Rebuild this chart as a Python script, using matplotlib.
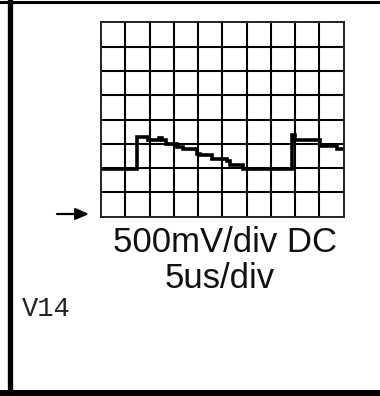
import matplotlib
matplotlib.use("Agg")
import matplotlib.pyplot as plt
from matplotlib.lines import Line2D

# Scope trace, in screen divisions (10 horizontal x 8 vertical)
trace_t = [0.00, 1.50, 1.95, 2.40, 2.50, 2.70, 3.15, 3.40, 3.95, 4.08, 4.56, 5.18, 5.32, 5.87,
           7.88, 7.98, 9.03, 9.72, 10.00]
trace_v = [1.95, 3.27, 3.16, 3.24, 3.14, 2.98, 2.86, 2.77, 2.60, 2.54, 2.38, 2.28, 2.13, 1.95,
           3.36, 3.16, 2.93, 2.77, 2.77]

n_hdiv = 10
n_vdiv = 8

vertical_label = "500mV/div DC"
horizontal_label = "5us/div"
probe_label = "V14"

W, H = 380, 396
fig = plt.figure(figsize=(W / 100, H / 100), dpi=100)
fig.patch.set_facecolor("white")

def fx(px):
    return px / W

def fy(py):
    return 1 - py / H

# frame lines around the sheet
fig.add_artist(Line2D([0, 1], [fy(1.5), fy(1.5)], color="black", lw=2.2, transform=fig.transFigure))
fig.add_artist(Line2D([fx(9.5), fx(9.5)], [0, 1], color="black", lw=3.8, transform=fig.transFigure))
fig.add_artist(Line2D([0, 1], [fy(393), fy(393)], color="black", lw=4.3, transform=fig.transFigure))

# graticule
gl, gr, gt, gb = 101, 343.5, 22.3, 216.7
ax = fig.add_axes([fx(gl), fy(gb), fx(gr - gl), (gb - gt) / H])
ax.set_xlim(0, n_hdiv)
ax.set_ylim(0, n_vdiv)
for s in ax.spines.values():
    s.set_linewidth(1.4)
    s.set_color("#222222")
ax.set_xticks([])
ax.set_yticks([])
for i in range(1, n_hdiv):
    ax.axvline(i, color="black", lw=1.5)
for j in range(1, n_vdiv):
    ax.axhline(j, color="black", lw=1.5)

ax.plot(trace_t, trace_v, drawstyle="steps-post", color="black", lw=2.6,
        solid_joinstyle="miter", clip_on=True)

# ground marker
ax.annotate("", xy=(fx(89), fy(214)), xytext=(fx(57), fy(214)),
            xycoords="figure fraction", textcoords="figure fraction",
            arrowprops=dict(arrowstyle="-|>,head_length=0.8,head_width=0.35",
                            color="black", lw=1.6, shrinkA=0, shrinkB=0))

fig.text(fx(225), fy(252), vertical_label, ha="center", va="baseline",
         family="Liberation Sans", fontsize=25, color="#111111")
fig.text(fx(220), fy(288), horizontal_label, ha="center", va="baseline",
         family="Liberation Sans", fontsize=25, color="#111111")
fig.text(fx(22), fy(316), probe_label, ha="left", va="baseline",
         family="Liberation Mono", fontsize=19.5, color="#222222")

fig.savefig("out.png", dpi=100, facecolor="white")
